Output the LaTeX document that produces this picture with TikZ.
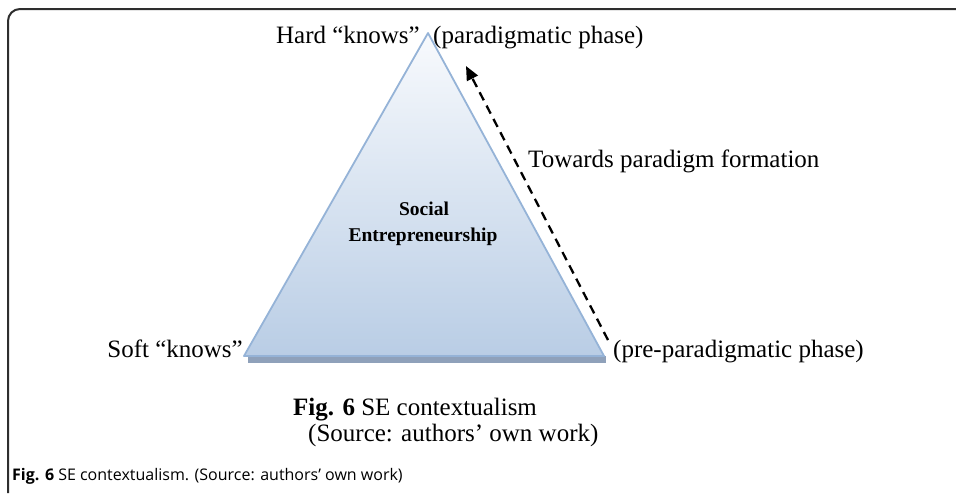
\documentclass[tikz,border=0pt]{standalone}
\usepackage{fontspec}
\setmainfont{Liberation Serif}
\newfontfamily\capsans{Open Sans}
\usepackage{xcolor}
\usepackage{tikz}
\usetikzlibrary{positioning,arrows.meta,calc}
\definecolor{sefill}{HTML}{B9CDE5}
\definecolor{setop}{HTML}{F8FAFD}
\definecolor{seedge}{HTML}{95B3D7}
\definecolor{seshadow}{HTML}{8FA1BA}
\definecolor{frameink}{HTML}{2E2E2E}

\begin{document}
\begin{tikzpicture}[x=1pt,y=-1pt,
  lbl/.style={font=\fontsize{25}{30}\selectfont,inner sep=0pt},
  core/.style={font=\bfseries\fontsize{19.5}{23}\selectfont,inner sep=0pt},
  toward/.style={draw=black,line width=2.3pt,dash pattern=on 9pt off 6pt,-{Triangle[length=14pt,width=12pt]}}]
\useasboundingbox (0,0) rectangle (956,493);
% frame
\draw[frameink,line width=2pt,rounded corners=12pt] (8,493) -- (8,9) -- (956,9);
% triangle with base shadow
\coordinate (apex) at (428,33);
\coordinate (bl) at (244,356);
\coordinate (br) at (604,356);
\fill[seshadow] ($(bl)+(4,0)$) rectangle ($(br)+(2,7)$);
\shade[top color=setop,bottom color=sefill,draw=seedge,line width=1.8pt,line join=round] (apex) -- (bl) -- (br) -- cycle;
\node[core,anchor=base] (social) at (424,215) {Social};
\node[core,anchor=base] (entre) at (423,241) {Entrepreneurship};
% corner labels
\node[lbl,anchor=base east] (hard) at (420,43) {Hard “knows”};
\node[lbl,anchor=base west] (parphase) at (433,43) {(paradigmatic phase)};
\node[lbl,anchor=base east] (soft) at (243,357) {Soft “knows”};
\node[lbl,anchor=base west] (prephase) at (613,357) {(pre-paradigmatic phase)};
% dashed arrow
\coordinate (tail) at (608,340);
\coordinate (tip) at (466,66);
\draw[toward] (tail) -- (tip);
\node[lbl,anchor=base west] (towards) at (528,167) {Towards paradigm formation};
% captions
\node[lbl,anchor=base west] (capfig) at (293,415) {\textbf{Fig. 6} SE contextualism};
\node[lbl,anchor=base west] (capsrc) at (308,441) {(Source: authors’ own work)};
\node[font=\capsans\fontsize{16}{19}\selectfont,inner sep=0pt,anchor=base west] (capsans) at (12,480) {\textbf{Fig. 6} SE contextualism. (Source: authors’ own work)};
\end{tikzpicture}
\end{document}
